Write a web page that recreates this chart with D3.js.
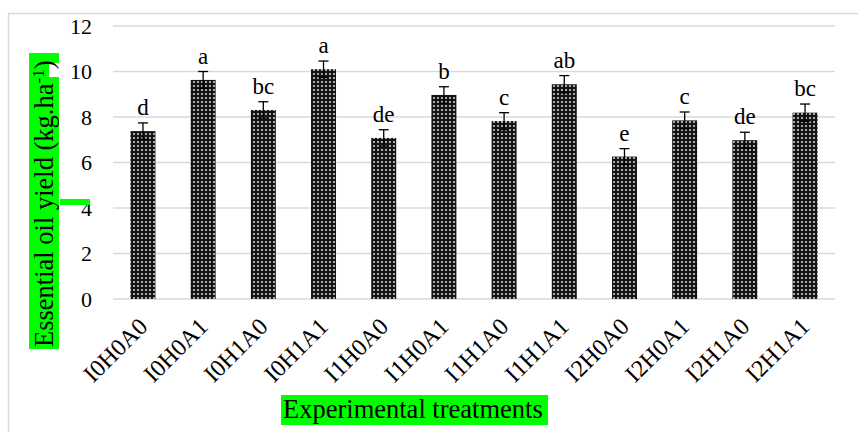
<!DOCTYPE html>
<html>
<head>
<meta charset="utf-8">
<script src="https://cdn.jsdelivr.net/npm/d3@7"></script>
<style>
  body { margin: 0; background: #fff; }
  text { font-family: "Liberation Serif", "Times New Roman", serif; }
</style>
</head>
<body>
<svg id="chart" width="858" height="432"></svg>
<script>
// treatments and mean essential oil yield (kg/ha)
var treatments = ["I0H0A0", "I0H0A1", "I0H1A0", "I0H1A1", "I1H0A0", "I1H0A1",
                  "I1H1A0", "I1H1A1", "I2H0A0", "I2H0A1", "I2H1A0", "I2H1A1"];
var yields = [7.38, 9.63, 8.31, 10.10, 7.08, 8.97, 7.82, 9.44, 6.26, 7.85, 6.98, 8.19];
var errors = [0.36, 0.37, 0.36, 0.36, 0.36, 0.36, 0.37, 0.38, 0.35, 0.37, 0.35, 0.38];
var groups = ["d", "a", "bc", "a", "de", "b", "c", "ab", "e", "c", "de", "bc"];
var yTicks = [0, 2, 4, 6, 8, 10, 12];

var serif = "Liberation Serif, Times New Roman, serif";
var svg = d3.select("#chart");

// outer chart border
svg.append("rect")
  .attr("x", 8.5).attr("y", 13.5)
  .attr("width", 900).attr("height", 500)
  .attr("fill", "none").attr("stroke", "#d9d9d9").attr("stroke-width", 1.5);

// dotted fill like the excel pattern
var defs = svg.append("defs");
var pat = defs.append("pattern")
  .attr("id", "dots").attr("patternUnits", "userSpaceOnUse")
  .attr("width", 4).attr("height", 4);
pat.append("rect").attr("width", 4).attr("height", 4).attr("fill", "#141414");
pat.append("rect").attr("x", 1).attr("y", 1).attr("width", 2).attr("height", 2).attr("fill", "#8c8c8c");
pat.append("rect").attr("x", 1.5).attr("y", 1.5).attr("width", 1).attr("height", 1).attr("fill", "#ffffff");

var x = d3.scaleBand()
  .domain(treatments)
  .range([113, 835])
  .paddingInner(0.585)
  .paddingOuter(0.29);

var y = d3.scaleLinear()
  .domain([0, 12])
  .range([299, 26]);

// gridlines
svg.append("g")
  .selectAll("line")
  .data(yTicks)
  .enter().append("line")
    .attr("x1", 113).attr("x2", 835)
    .attr("y1", function(d) { return y(d); })
    .attr("y2", function(d) { return y(d); })
    .attr("stroke", "#d9d9d9").attr("stroke-width", 1.5);

// y axis labels
var yAxis = svg.append("g")
  .attr("transform", "translate(100,0)")
  .call(d3.axisLeft(y).tickValues(yTicks).tickSize(0).tickPadding(8));
yAxis.attr("font-family", serif);
yAxis.select(".domain").remove();
yAxis.selectAll("text")
  .attr("font-size", 22).attr("fill", "#000")
  .attr("dy", "0.34em");

var data = treatments.map(function(t, i) {
  return { name: t, value: yields[i], err: errors[i], grp: groups[i] };
});

// bars
svg.selectAll(".bar")
    .data(data)
  .enter().append("rect")
    .attr("class", "bar")
    .attr("fill", "url(#dots)")
    .attr("x", function(d) { return x(d.name); })
    .attr("width", x.bandwidth())
    .attr("y", function(d) { return y(d.value); })
    .attr("height", function(d) { return y(0) - y(d.value); });

// error bars
var eb = svg.append("g").attr("stroke", "#000").attr("stroke-width", 1.3);
data.forEach(function(d) {
  var cx = x(d.name) + x.bandwidth() / 2;
  eb.append("line").attr("x1", cx).attr("x2", cx)
    .attr("y1", y(d.value + d.err)).attr("y2", y(d.value - d.err));
  eb.append("line").attr("x1", cx - 5).attr("x2", cx + 5)
    .attr("y1", y(d.value + d.err)).attr("y2", y(d.value + d.err));
  eb.append("line").attr("x1", cx - 5).attr("x2", cx + 5)
    .attr("y1", y(d.value - d.err)).attr("y2", y(d.value - d.err));
});

// significance letters
svg.selectAll(".grp")
    .data(data)
  .enter().append("text")
    .attr("class", "grp")
    .attr("font-family", serif)
    .attr("x", function(d) { return x(d.name) + x.bandwidth() / 2; })
    .attr("y", function(d) { return y(d.value + d.err) - 8; })
    .attr("text-anchor", "middle")
    .attr("font-size", 23)
    .text(function(d) { return d.grp; });

// rotated category labels
svg.selectAll(".xlab")
    .data(treatments)
  .enter().append("text")
    .attr("class", "xlab")
    .attr("font-family", serif)
    .attr("text-anchor", "end")
    .attr("font-size", 24)
    .attr("transform", function(d) {
      return "translate(" + (x(d) + x.bandwidth() / 2 + 6) + ",328) rotate(-45)";
    })
    .text(function(d) { return d; });

// x axis title
svg.append("rect")
  .attr("x", 281).attr("y", 395).attr("width", 267).attr("height", 30)
  .attr("fill", "#00ff00");
svg.append("text")
  .attr("font-family", serif)
  .attr("x", 283).attr("y", 418)
  .attr("font-size", 26.5)
  .text("Experimental treatments");

// y axis title
svg.append("rect")
  .attr("x", 29).attr("y", 53).attr("width", 30).attr("height", 296)
  .attr("fill", "#00ff00");
svg.append("rect")
  .attr("x", 49).attr("y", 63).attr("width", 11).attr("height", 14)
  .attr("fill", "#fff");
svg.append("rect")
  .attr("x", 60).attr("y", 199).attr("width", 30).attr("height", 6)
  .attr("fill", "#00ff00");
var yt = svg.append("text")
  .attr("font-family", serif)
  .attr("transform", "translate(53,347) rotate(-90)")
  .attr("font-size", 26.5);
yt.append("tspan").text("Essential oil yield (kg.ha");
yt.append("tspan").attr("dy", -9).attr("font-size", 17).text("-1");
yt.append("tspan").attr("dy", 9).text(")");
</script>
</body>
</html>
